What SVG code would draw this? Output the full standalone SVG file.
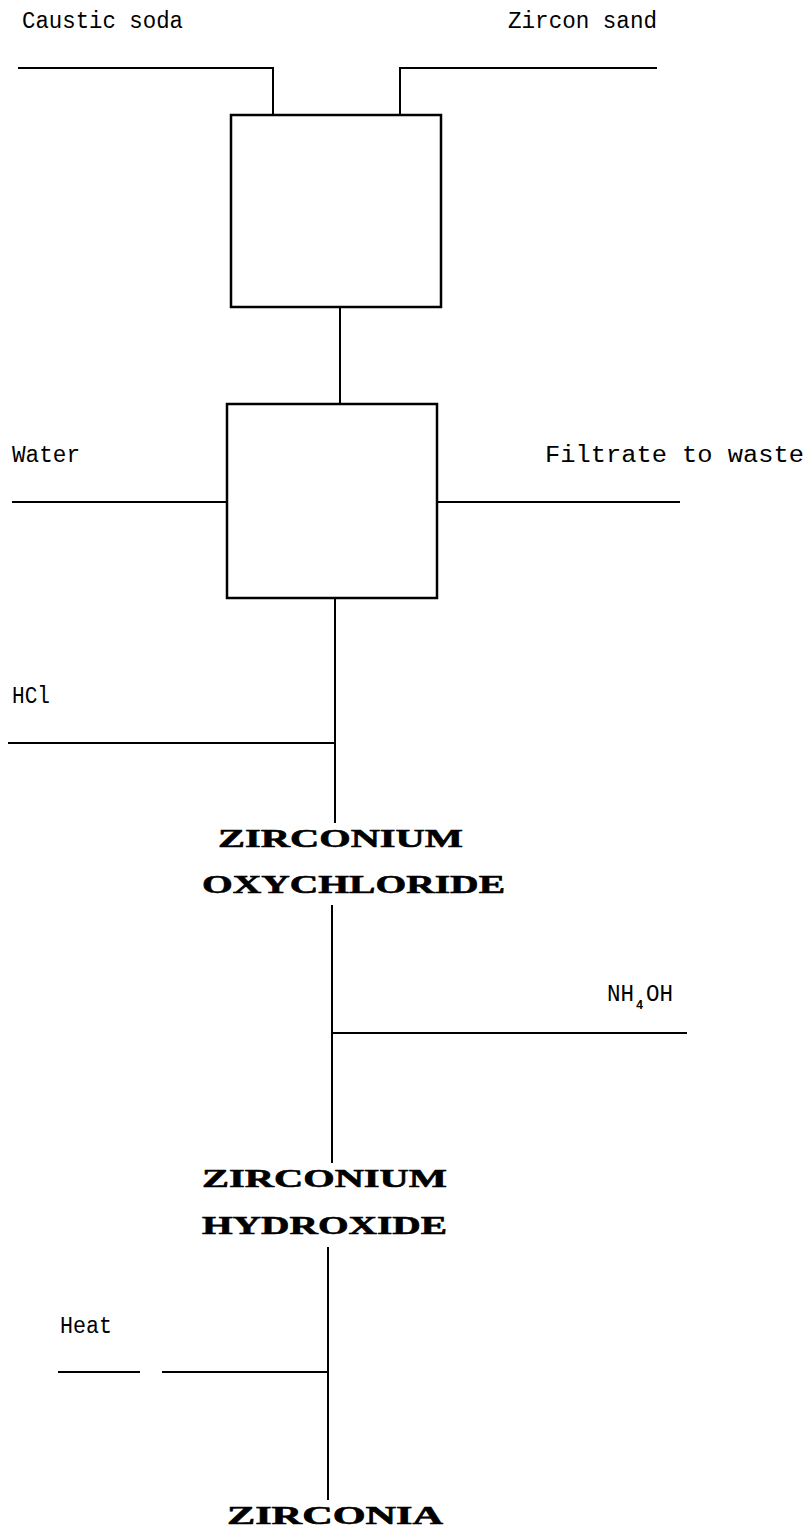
<svg xmlns="http://www.w3.org/2000/svg" width="812" height="1527" viewBox="0 0 812 1527">
<style>
.lbl{font-family:"Liberation Mono","DejaVu Sans Mono",monospace;font-size:23px;fill:#000}
.sub{font-family:"Liberation Mono","DejaVu Sans Mono",monospace;font-size:12px;font-weight:bold;fill:#000}
.big{font-family:"Liberation Serif","DejaVu Serif",serif;font-size:26px;font-weight:bold;fill:#000;stroke:#000;stroke-width:0.6}
.ln{stroke:#000;stroke-width:2;fill:none}
.box{stroke:#000;stroke-width:2.5;fill:#fff}
</style>
<rect width="812" height="1527" fill="#fff"/>
<g id="connectors">
<path class="ln" d="M18 68 H273 V115"/>
<path class="ln" d="M657 68 H400 V115"/>
<path class="ln" d="M340 307 V404"/>
<path class="ln" d="M12 502 H227"/>
<path class="ln" d="M437 502 H680"/>
<path class="ln" d="M335 598 V823"/>
<path class="ln" d="M8 743 H334"/>
<path class="ln" d="M332 905 V1163"/>
<path class="ln" d="M332 1033 H687"/>
<path class="ln" d="M328 1247 V1500"/>
<path class="ln" d="M58 1372 H140 M162 1372 H328"/>
</g>
<g id="caustic-soda"><text class="lbl" x="22" y="28" textLength="161" lengthAdjust="spacingAndGlyphs">Caustic soda</text></g>
<g id="zircon-sand"><text class="lbl" x="508" y="28" textLength="149" lengthAdjust="spacingAndGlyphs">Zircon sand</text></g>
<g id="box1"><rect class="box" x="231" y="115" width="210" height="192"/></g>
<g id="box2"><rect class="box" x="227" y="404" width="210" height="194"/></g>
<g id="water"><text class="lbl" x="12" y="462" textLength="68" lengthAdjust="spacingAndGlyphs">Water</text></g>
<g id="filtrate"><text class="lbl" x="545" y="462" textLength="259" lengthAdjust="spacingAndGlyphs">Filtrate to waste</text></g>
<g id="hcl"><text class="lbl" x="12" y="703" textLength="38" lengthAdjust="spacingAndGlyphs">HCl</text></g>
<g id="zr-oxychloride">
<text class="big" x="218" y="847" textLength="245" lengthAdjust="spacingAndGlyphs">ZIRCONIUM</text>
<text class="big" x="202" y="893" textLength="303" lengthAdjust="spacingAndGlyphs">OXYCHLORIDE</text>
</g>
<g id="nh4oh"><text class="lbl" x="607" y="1001" textLength="27" lengthAdjust="spacingAndGlyphs">NH</text><text class="sub" x="636" y="1009">4</text><text class="lbl" x="646" y="1001" textLength="27" lengthAdjust="spacingAndGlyphs">OH</text></g>
<g id="zr-hydroxide">
<text class="big" x="202" y="1187" textLength="245" lengthAdjust="spacingAndGlyphs">ZIRCONIUM</text>
<text class="big" x="202" y="1234" textLength="245" lengthAdjust="spacingAndGlyphs">HYDROXIDE</text>
</g>
<g id="heat"><text class="lbl" x="60" y="1333" textLength="52" lengthAdjust="spacingAndGlyphs">Heat</text></g>
<g id="zirconia"><text class="big" x="227" y="1524" textLength="216" lengthAdjust="spacingAndGlyphs">ZIRCONIA</text></g>
</svg>
